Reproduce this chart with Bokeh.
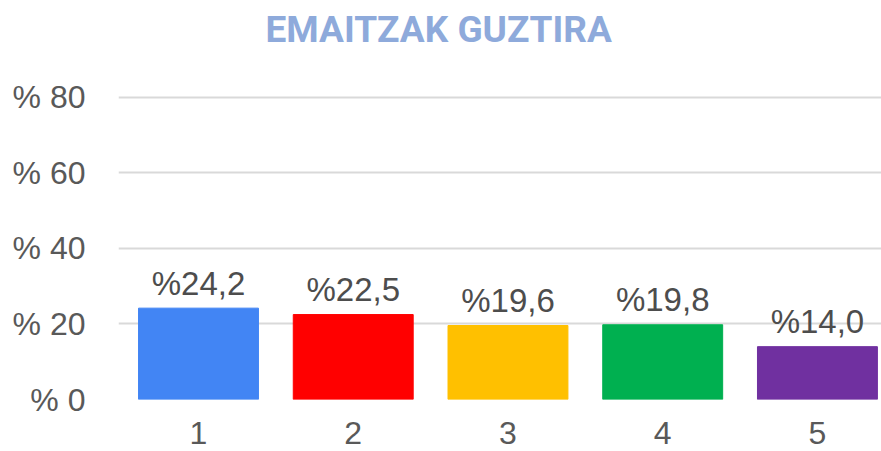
from bokeh.plotting import figure
from bokeh.models import Range1d, FixedTicker, ColumnDataSource
from bokeh.embed import file_html
from bokeh.resources import INLINE
from bokeh.core.properties import value

# ---- data ----
categories = [1, 2, 3, 4, 5]
shares = [24.2, 22.5, 19.6, 19.8, 14.0]
bar_colors = ["#4285F4", "#FF0000", "#FFC000", "#00B050", "#7030A0"]
y_ticks = [0, 20, 40, 60, 80]
y_tick_labels = ["% 0", "% 20", "% 40", "% 60", "% 80"]
x_tick_labels = ["1", "2", "3", "4", "5"]
title_text = "EMAITZAK GUZTIRA"

value_labels = ["%" + f"{v:.1f}".replace(".", ",") for v in shares]

src = ColumnDataSource(dict(x=categories, top=shares, color=bar_colors, label=value_labels))

p = figure(width=881, height=451, output_backend="svg", toolbar_location=None,
           x_range=Range1d(0.483, 5.414), y_range=Range1d(0, 92.45),
           min_border_left=118, min_border_right=0, min_border_top=50,
           min_border_bottom=52)

p.title.text = title_text
p.title.text_font = "Roboto"
p.title.text_font_style = "bold"
p.title.text_font_size = "37px"
p.title.text_color = "#8EAADB"
p.title.align = "left"
p.title.offset = 147
p.title.standoff = 0

p.vbar(x="x", top="top", bottom=0, width=0.775, color="color", source=src)
p.text(x="x", y="top", text="label", source=src, text_align="center",
       text_baseline="alphabetic", y_offset=-25,
       text_font=value("Liberation Sans"), text_font_size="33px",
       text_color="#4d4d4d")

p.outline_line_color = None
p.xgrid.visible = False
p.ygrid.ticker = FixedTicker(ticks=y_ticks)
p.ygrid.grid_line_color = "#d9d9d9"
p.ygrid.grid_line_width = 2

p.yaxis.ticker = FixedTicker(ticks=y_ticks)
p.yaxis.major_label_overrides = dict(zip(y_ticks, y_tick_labels))
p.xaxis.ticker = FixedTicker(ticks=categories)
p.xaxis.major_label_overrides = dict(zip(categories, x_tick_labels))

for ax in (p.xaxis, p.yaxis):
    ax.axis_line_color = None
    ax.major_tick_line_color = None
    ax.minor_tick_line_color = None
    ax.major_label_text_font = "Liberation Sans"
    ax.major_label_text_font_size = "32px"
    ax.major_label_text_color = "#595959"

p.yaxis.major_label_standoff = 27
p.xaxis.major_label_standoff = 16

open("out.html", "w").write(file_html(p, INLINE))
